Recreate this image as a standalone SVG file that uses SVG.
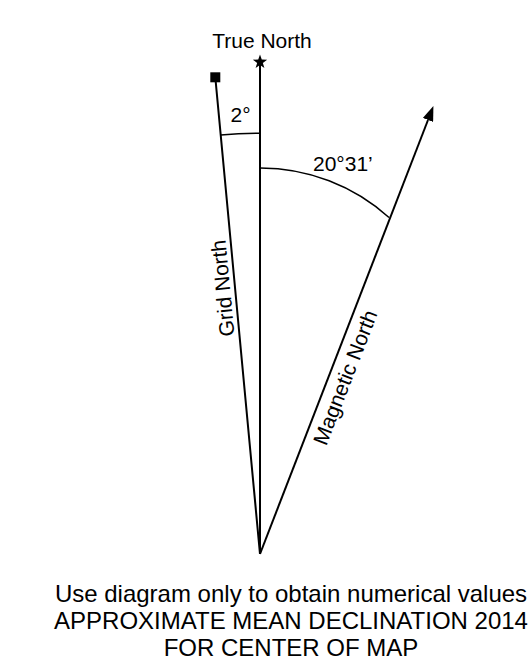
<svg xmlns="http://www.w3.org/2000/svg" width="532" height="670" viewBox="0 0 532 670">
<style>
.ln{stroke:#000;stroke-width:2;fill:none}
.arc{stroke:#000;stroke-width:1.5;fill:none}
.t{font-family:"Liberation Sans",Arial,sans-serif;fill:#000}
.lbl{font-size:21px}
.cap{font-size:24px;text-anchor:middle}
</style>
<defs>
<marker id="arrow" markerUnits="userSpaceOnUse" markerWidth="15" markerHeight="11" viewBox="0 0 15 11" refX="0" refY="5.5" orient="auto">
<path d="M0,0 L15,5.5 L0,11 z" fill="#000"/>
</marker>
</defs>
<rect width="532" height="670" fill="#fff"/>
<g id="connectors">
<line class="ln" x1="260" y1="62" x2="260" y2="554"/>
<line class="ln" x1="215.3" y1="77.3" x2="260" y2="554"/>
<line class="ln" x1="260" y1="554" x2="428" y2="120" marker-end="url(#arrow)"/>
</g>
<g id="true-north">
<polygon points="260,54.5 261.76,59.57 267.13,59.68 262.85,62.93 264.41,68.07 260,65 255.59,68.07 257.15,62.93 252.87,59.68 258.24,59.57" fill="#000"/>
<text class="t lbl" x="262" y="48" text-anchor="middle">True North</text>
</g>
<g id="grid-north">
<rect x="210.3" y="72.3" width="10" height="10" fill="#000"/>
<text class="t lbl" text-anchor="middle" transform="translate(230,287.5) rotate(-95.4)">Grid North</text>
</g>
<g id="magnetic-north">
<text class="t lbl" text-anchor="middle" transform="translate(352,380) rotate(-68.8)">Magnetic North</text>
</g>
<g id="angle-grid">
<path class="arc" d="M260,133.3 A420.7,420.7 0 0 0 220.7,135.1"/>
<text class="t lbl" x="230.5" y="122">2°</text>
</g>
<g id="angle-magnetic">
<path class="arc" d="M260,168 A192,192 0 0 1 389,217.5"/>
<text class="t lbl" x="313" y="170.5">20°31’</text>
</g>
<g id="caption">
<text class="t cap" x="291" y="602">Use diagram only to obtain numerical values</text>
<text class="t cap" x="291" y="629">APPROXIMATE MEAN DECLINATION 2014</text>
<text class="t cap" x="291" y="656">FOR CENTER OF MAP</text>
</g>
</svg>
